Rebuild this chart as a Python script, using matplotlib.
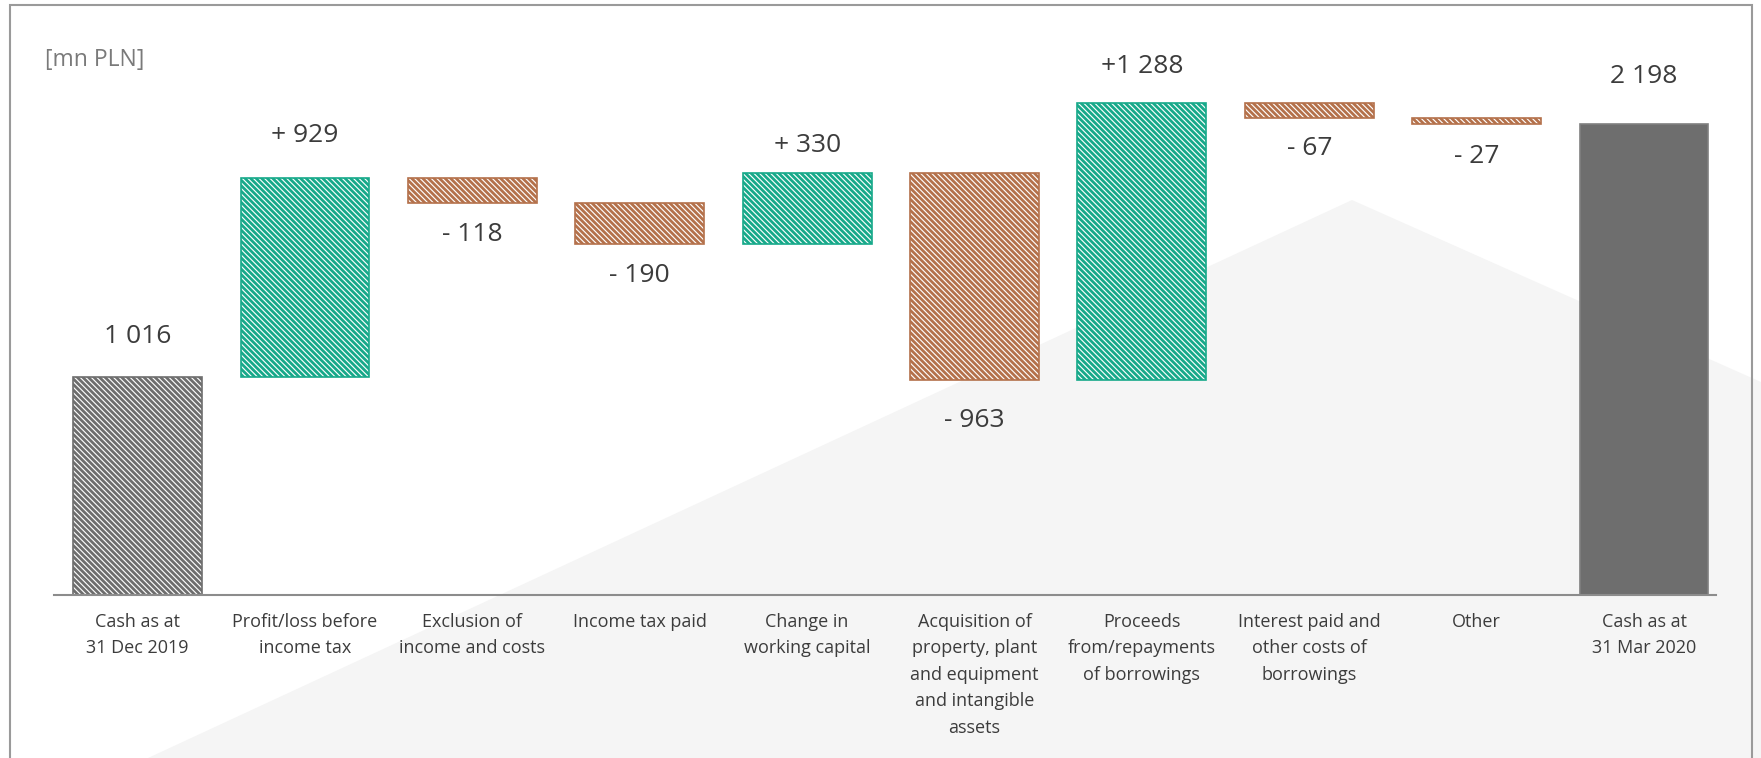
import matplotlib
matplotlib.use('Agg')
import matplotlib.pyplot as plt
from matplotlib.patches import Polygon, Rectangle

plt.rcParams['font.family'] = ['Open Sans', 'DejaVu Sans']
plt.rcParams['hatch.linewidth'] = 2.0

# data
categories = ['Cash as at\n31 Dec 2019', 'Profit/loss before\nincome tax',
              'Exclusion of\nincome and costs', 'Income tax paid',
              'Change in\nworking capital',
              'Acquisition of\nproperty, plant\nand equipment\nand intangible\nassets',
              'Proceeds\nfrom/repayments\nof borrowings',
              'Interest paid and\nother costs of\nborrowings', 'Other',
              'Cash as at\n31 Mar 2020']
values = [1016, 929, -118, -190, 330, -963, 1288, -67, -27, 2198]
kinds = ['start', 'delta', 'delta', 'delta', 'delta', 'delta', 'delta', 'delta', 'delta', 'end']
value_labels = ['1 016', '+ 929', '- 118', '- 190', '+ 330', '- 963', '+1 288', '- 67', '- 27', '2 198']

# label distance from bar end (points), as placed in the original
label_gap = [29, 30.5, 22.5, 22.5, 19.5, 29.5, 26.5, 22.5, 24, 34]

GREEN = '#17a98a'
BROWN = '#b4714b'
GREY = '#6e6e6e'
TXT = '#3c3c3c'
HATCH = '\\' * 6

W, H = 1761, 758
fig = plt.figure(figsize=(W / 100, H / 100), dpi=100)

# light grey background shape
bg = Polygon([(148 / W, 0), (1352 / W, 1 - 200 / H), (1, 1 - 382 / H), (1, 0)],
             closed=True, transform=fig.transFigure, facecolor='#f5f5f5',
             edgecolor='none', zorder=-5)
fig.add_artist(bg)

# axes: baseline at y=595px, 0.2145 px per mn PLN
ymax = 2700
ax = fig.add_axes([54 / W, 1 - 595 / H, (1716 - 54) / W, ymax * 0.2145 / H])
ax.patch.set_alpha(0)
ax.set_xlim(-0.5, 9.43)
ax.set_ylim(0, ymax)

running = 0
for i, (v, k) in enumerate(zip(values, kinds)):
    if k == 'start':
        bottom, height = 0, v
        ax.bar(i, height, bottom=bottom, width=0.77, facecolor='white',
               edgecolor=GREY, hatch=HATCH, linewidth=1.2)
        running = v
    elif k == 'end':
        bottom, height = 0, v
        ax.bar(i, height, bottom=bottom, width=0.77, color=GREY,
               edgecolor='#808080', linewidth=1.2)
    else:
        c = GREEN if v > 0 else BROWN
        bottom = running if v > 0 else running + v
        height = abs(v)
        ax.bar(i, height, bottom=bottom, width=0.77, facecolor='white',
               edgecolor=c, hatch=HATCH, linewidth=1.2)
        running += v
    if k != 'delta' or v > 0:
        ax.annotate(value_labels[i], (i, bottom + height), xytext=(0, label_gap[i]),
                    textcoords='offset points', ha='center', va='center',
                    fontsize=19, color=TXT)
    else:
        ax.annotate(value_labels[i], (i, bottom), xytext=(0, -label_gap[i]),
                    textcoords='offset points', ha='center', va='center',
                    fontsize=19, color=TXT)

for s in ['top', 'right', 'left']:
    ax.spines[s].set_visible(False)
ax.spines['bottom'].set_color('#8c8c8c')
ax.spines['bottom'].set_linewidth(1.5)
ax.set_yticks([])
ax.set_xticks(range(len(categories)))
ax.set_xticklabels(categories, fontsize=13, color=TXT, linespacing=1.6, va='top')
ax.tick_params(axis='x', length=0, pad=13)

fig.text(45 / W, 1 - 60 / H, '[mn PLN]', fontsize=16.5, color='#7a7a7a',
         ha='left', va='center')

# outer frame
frame = Rectangle((10 / W, -0.05), (1752 - 10) / W, 1.05 - 5 / H, fill=False,
                  edgecolor='#9a9a9a', linewidth=1.5, transform=fig.transFigure,
                  zorder=10)
fig.add_artist(frame)

fig.savefig('out.png', dpi=100)
